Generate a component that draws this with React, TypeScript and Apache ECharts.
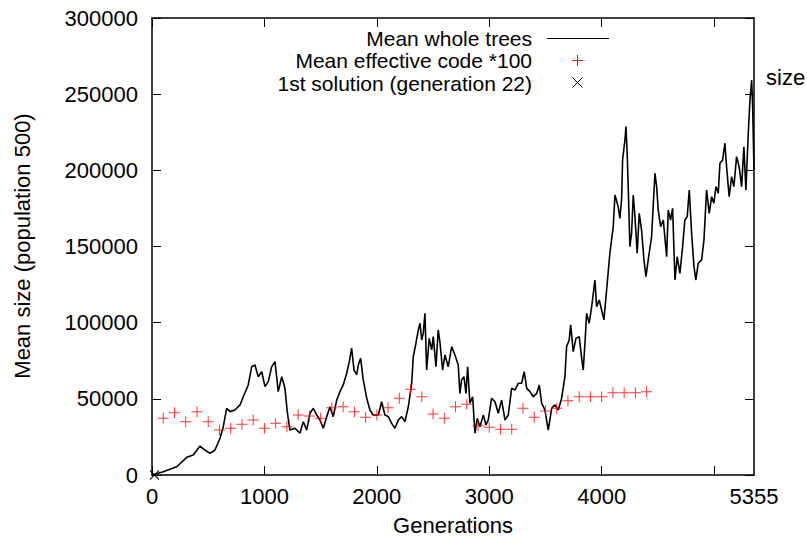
import React, { useEffect, useRef } from "react";
import * as echarts from "echarts";

const treeGens = [
  0, 100, 220, 309, 367, 427, 471, 516, 560, 605, 634, 664, 694, 738, 783, 812, 856, 887, 916, 945,
  976, 1005, 1034, 1065, 1094, 1123, 1154, 1183, 1203, 1227, 1272, 1316,
  1346, 1376, 1405, 1435, 1465, 1494, 1524, 1554, 1583, 1612, 1643, 1672, 1701, 1732, 1755, 1776, 1797, 1821,
  1835, 1856, 1879, 1910, 1939, 1968, 2013, 2043, 2072, 2102, 2132, 2161, 2191, 2221, 2250, 2280, 2310, 2324,
  2348, 2369, 2384, 2399, 2413, 2428, 2443, 2466, 2488, 2502, 2526, 2546, 2561, 2585, 2606, 2635, 2666, 2695,
  2724, 2739, 2754, 2775, 2793, 2808, 2828, 2852, 2873, 2893, 2917, 2947, 2971, 2991, 3021, 3051, 3080, 3110,
  3140, 3169, 3199, 3229, 3258, 3288, 3311, 3333, 3362, 3391, 3422, 3445, 3466, 3495, 3525, 3555, 3584, 3614,
  3644, 3673, 3688, 3711, 3724, 3747, 3771, 3800, 3822, 3836, 3854, 3866, 3889, 3911, 3940, 3955, 3978, 4000,
  4020, 4044,
  4073, 4103, 4118, 4147, 4162, 4177, 4186, 4207, 4216, 4227, 4236, 4251, 4266, 4281, 4296, 4316, 4334, 4355,
  4376, 4394, 4414, 4444, 4474, 4489, 4503, 4524, 4548, 4578, 4592, 4613, 4631, 4652, 4672, 4696, 4720, 4740,
  4761, 4779, 4800, 4821, 4838, 4859, 4889, 4910, 4933, 4957, 4978, 4998, 5016, 5037, 5052, 5076, 5096, 5111,
  5134, 5156, 5176, 5200, 5223, 5245, 5265, 5283, 5304, 5319, 5334, 5343, 5355,
];

const treeSizes = [
  0, 2200, 5400, 11600, 13100, 19000, 16400, 14200, 16400, 24100, 31700, 43800, 41600, 42700, 46000, 51400, 59100, 71100, 72200, 64500,
  67800, 58000, 61300, 71100, 74400, 54700, 64500, 56900, 41600, 29500, 30700, 27400,
  35000, 29500, 40500, 43800, 39400, 36100, 30700, 38300, 44800, 38300, 49200, 54700, 59100, 66800, 74400, 83200, 68900, 65700,
  72200, 76600, 62400, 50400, 42700, 39400, 39400, 48100, 39400, 38300, 33900, 30700, 36100, 38300, 35000, 44800, 60200, 77700,
  86500, 95200, 99600, 88600, 93000, 106200, 68900, 89700, 82100, 90800, 71100, 95200, 87500, 68900, 78800, 71100, 84200, 78800,
  72200, 53600, 62400, 64500, 53600, 71100, 47100, 51400, 27400, 37200, 31700, 39400, 32800, 36100, 50400, 48100, 40500, 49200,
  36100, 39400, 56900, 55800, 60200, 60200, 67800, 56900, 54700, 51400, 53600, 59100, 47100, 42700, 29500, 43800, 46000, 42700,
  50400, 64500, 84200, 88600, 98500, 81000, 89700, 90800, 76600, 68900, 89700, 106200, 99600, 110500, 128000, 110500, 114900, 108300,
  101800, 121500,
  145600, 163000, 183800, 176100, 168500, 180500, 206800, 219900, 228700, 211200, 189300, 149900, 158700, 183800, 169600, 145600, 171800, 160800,
  141200, 130200, 141200, 156400, 198100, 189300, 174000, 163000, 167400, 143300, 174000, 167400, 175100, 128000, 143300, 132400, 149900, 167400,
  169600, 187100, 158700, 136800, 128000, 139000, 141200, 154300, 187100, 171800, 182700, 178400, 189300, 184900, 204600, 206800, 217800, 202400,
  182700, 195800, 189300, 209000, 202400, 189300, 215500, 187100, 224300, 246200, 259300, 241800, 200200,
];

const codeGens = [
  100, 200, 300, 400, 500, 600, 700, 800, 900, 1000, 1100, 1200, 1300, 1400, 1500, 1600, 1700, 1800, 1900, 2000, 2100, 2200,
  2300, 2400, 2500, 2600, 2700, 2800, 2900, 3000, 3100, 3200, 3300, 3400, 3500, 3600, 3700, 3800, 3900, 4000, 4100, 4200, 4300, 4400,
];
const codeSizes = [
  37200, 40900, 35000, 41600, 35000, 29500, 30700, 33300, 36100, 30700, 33900, 31700, 39400, 38700, 37200, 44200, 44800, 41600, 37900, 39400, 44200, 50400,
  56300, 51400, 40000, 37200, 44800, 46400, 32400, 31300, 30000, 30000, 43800, 37900, 42000, 43800, 48800, 51400, 51400, 51400, 54000, 54000, 54000, 54700,
];

const solutionGen = [22];
const solutionSize = [0];

const xTickValues = [0, 1000, 2000, 3000, 4000, 5000];
const xLabelValues = [0, 1000, 2000, 3000, 4000, 5355];

const legendLabels = ["Mean whole trees", "Mean effective code *100", "1st solution (generation 22)"];
const xTitle = "Generations";
const yTitle = "Mean size (population 500)";
const sideLabel = "size";

const FONT = '"Liberation Sans", Arial, sans-serif';
const FS = 22;
const LEGEND_FS = 21;

export default function App() {
  const ref = useRef<HTMLDivElement>(null);
  useEffect(() => {
    if (!ref.current) return;
    const chart = echarts.init(ref.current, null, { renderer: "svg" });
    const axisLine = { show: true, onZero: false, lineStyle: { color: "#000", width: 1.5 } };
    const tick = { show: true, inside: true, length: 9, lineStyle: { color: "#000", width: 1 } };
    const label = { color: "#000", fontSize: FS, fontFamily: FONT };
    const plusPath = "path://M5,0H6V5H11V6H6V11H5V6H0V5H5Z";
    const crossPath = "path://M0,1L1,0L5,4L9,0L10,1L6,5L10,9L9,10L5,6L1,10L0,9L4,5Z";
    const txt = (text: string, x: number, y: number, align: string, size: number, extra: any = {}) => ({
      type: "text",
      x,
      y,
      ...extra,
      style: { text, fill: "#000", fontSize: size, fontFamily: FONT, lineHeight: size, align, verticalAlign: "middle" },
    });
    chart.setOption({
      animation: false,
      backgroundColor: "#fff",
      grid: { left: 152, right: 53, top: 18, bottom: 65, containLabel: false, outerBoundsMode: "none" },
      xAxis: [
        {
          type: "value",
          min: 0,
          max: 5355,
          position: "bottom",
          axisLine,
          axisTick: { ...tick, customValues: xTickValues },
          axisLabel: { ...label, margin: 10, customValues: xLabelValues, formatter: (v: number) => String(v) },
          splitLine: { show: false },
        },
        {
          type: "value",
          min: 0,
          max: 5355,
          position: "top",
          axisLine,
          axisTick: { ...tick, customValues: xTickValues },
          axisLabel: { show: false },
          splitLine: { show: false },
        },
      ],
      yAxis: [
        {
          type: "value",
          min: 0,
          max: 300000,
          interval: 50000,
          position: "left",
          axisLine,
          axisTick: tick,
          axisLabel: { ...label, margin: 14, formatter: (v: number) => String(v) },
          splitLine: { show: false },
        },
        {
          type: "value",
          min: 0,
          max: 300000,
          interval: 50000,
          position: "right",
          axisLine,
          axisTick: tick,
          axisLabel: { show: false },
          splitLine: { show: false },
        },
      ],
      series: [
        {
          type: "line",
          name: legendLabels[0],
          data: treeGens.map((g, i) => [g, treeSizes[i]]),
          showSymbol: false,
          symbol: "none",
          lineStyle: { color: "#000", width: 1.6 },
          z: 2,
        },
        {
          type: "scatter",
          name: legendLabels[1],
          data: codeGens.map((g, i) => [g, codeSizes[i]]),
          symbol: plusPath,
          symbolSize: 11,
          itemStyle: { color: "#ff0000" },
          z: 3,
        },
        {
          type: "scatter",
          name: legendLabels[2],
          data: solutionGen.map((g, i) => [g, solutionSize[i]]),
          symbol: crossPath,
          symbolSize: 10,
          itemStyle: { color: "#000" },
          clip: false,
          z: 4,
        },
      ],
      graphic: [
        txt(legendLabels[0], 532, 38, "right", LEGEND_FS),
        txt(legendLabels[1], 532, 60.5, "right", LEGEND_FS),
        txt(legendLabels[2], 532, 83, "right", LEGEND_FS),
        { type: "line", shape: { x1: 547, y1: 38.5, x2: 609, y2: 38.5 }, style: { stroke: "#000", lineWidth: 1 } },
        { type: "line", shape: { x1: 572, y1: 60.5, x2: 583, y2: 60.5 }, style: { stroke: "#ff0000", lineWidth: 1 } },
        { type: "line", shape: { x1: 577.5, y1: 55, x2: 577.5, y2: 66 }, style: { stroke: "#ff0000", lineWidth: 1 } },
        { type: "line", shape: { x1: 572.5, y1: 77.5, x2: 582.5, y2: 87.5 }, style: { stroke: "#000", lineWidth: 1 } },
        { type: "line", shape: { x1: 572.5, y1: 87.5, x2: 582.5, y2: 77.5 }, style: { stroke: "#000", lineWidth: 1 } },
        txt(xTitle, 453, 525, "center", FS),
        txt(yTitle, 22, 246, "center", FS, { rotation: Math.PI / 2 }),
        txt(sideLabel, 766, 77, "left", FS),
      ],
    });
    return () => chart.dispose();
  }, []);
  return (
    <div
      ref={ref}
      style={{ position: "absolute", left: 0, top: 0, width: 807, height: 540, background: "#fff" }}
    />
  );
}
